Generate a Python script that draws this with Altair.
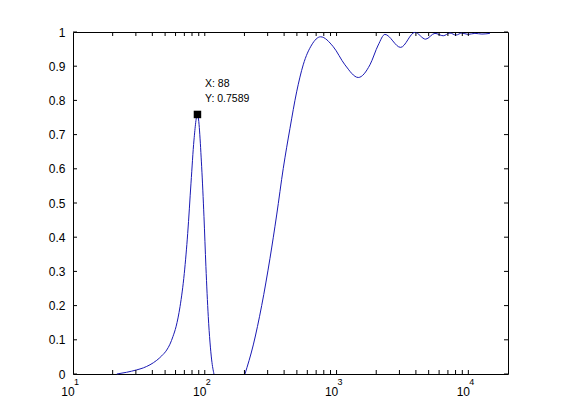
import altair as alt
import pandas as pd

# ---- data ----
peak_x = [21.5, 25.5, 30.4, 34.2, 38.4, 43.2, 47.1, 51.4, 54.4, 57.4, 60.5, 64.9, 69.9,
          74.2, 78.6, 82.8, 88, 94.7, 98.6, 102, 106.3, 112.8, 117.4]
peak_y = [0, 0.005, 0.012, 0.018, 0.027, 0.04, 0.053, 0.07, 0.087, 0.11, 0.138, 0.197, 0.294,
          0.411, 0.558, 0.684, 0.7589, 0.606, 0.46, 0.314, 0.168, 0.041, 0]

rise_x = [201.8, 233.4, 270.3, 312.4, 351.2, 394, 443, 498, 558.5, 647, 757, 944,
          1158, 1462, 1792, 2072, 2328, 3064, 3934, 4743, 5579, 6453, 7250, 8050,
          8940, 9930, 11220, 12680, 14580]
rise_y = [0, 0.085, 0.2, 0.338, 0.465, 0.601, 0.718, 0.825, 0.904, 0.962, 0.986, 0.957,
          0.904, 0.867, 0.904, 0.962, 0.993, 0.955, 0.999, 0.979, 0.996, 0.989, 0.997, 0.991,
          0.997, 0.993, 0.996, 0.994, 0.996]

tip_x = [88]
tip_y = [0.7589]
tip_label = ["X: 88\nY: 0.7589"]

x_major = [10, 100, 1000, 10000]
x_exp = ["1", "2", "3", "4"]
x_minor = [20, 30, 40, 50, 60, 70, 80, 90,
           200, 300, 400, 500, 600, 700, 800, 900,
           2000, 3000, 4000, 5000, 6000, 7000, 8000, 9000]
y_ticks = [0.0, 0.1, 0.2, 0.3, 0.4, 0.5, 0.6, 0.7, 0.8, 0.9, 1.0]

W, H = 435, 342
FONT = "Liberation Sans"
LINE = "#1a1ab4"

curve = pd.DataFrame({
    "x": peak_x + rise_x,
    "y": peak_y + rise_y,
    "seg": ["a"] * len(peak_x) + ["b"] * len(rise_x),
})
tip = pd.DataFrame({"x": tip_x, "y": tip_y, "label": tip_label})
xt = pd.DataFrame({"x": x_major[1:] + x_minor})
yt = pd.DataFrame({"y": y_ticks})
ex = pd.DataFrame({"x": x_major, "e": x_exp})

xs = alt.Scale(type="log", domain=[10, 20000])
ys = alt.Scale(domain=[0, 1])

x_axis = alt.Axis(
    values=x_major, labelExpr="'10'", title=None, grid=False, domain=False,
    ticks=False, tickSize=0, labelFont=FONT, labelFontSize=12, labelColor="black",
    labelAlign="center", labelOffset=-5.5, labelBaseline="alphabetic", labelPadding=21,
    labelFlush=False, labelOverlap=False)
y_axis = alt.Axis(
    values=y_ticks, format=".1~f", title=None, grid=False, domain=False,
    ticks=False, tickSize=0, labelFont=FONT, labelFontSize=12, labelColor="black",
    labelPadding=8, labelOverlap=False)


def X():
    return alt.X("x:Q", scale=xs, axis=x_axis)


def Y():
    return alt.Y("y:Q", scale=ys, axis=y_axis)


line = alt.Chart(curve).mark_line(color=LINE, strokeWidth=1, interpolate="monotone").encode(
    x=X(), y=Y(), detail="seg:N")

tick_b = alt.Chart(xt).mark_rule(color="black", strokeWidth=1).encode(
    x=X(), y=alt.value(H), y2=alt.value(H - 4))
tick_t = alt.Chart(xt).mark_rule(color="black", strokeWidth=1).encode(
    x=X(), y=alt.value(0), y2=alt.value(4))
tick_l = alt.Chart(yt).mark_rule(color="black", strokeWidth=1).encode(
    y=Y(), x=alt.value(0), x2=alt.value(4))
tick_r = alt.Chart(yt).mark_rule(color="black", strokeWidth=1).encode(
    y=Y(), x=alt.value(W), x2=alt.value(W - 4))

exps = alt.Chart(ex).mark_text(align="left", baseline="alphabetic", dx=1, fontSize=9,
                               font=FONT, color="black").encode(
    x=X(), y=alt.value(H + 11.3), text="e:N")

marker = alt.Chart(tip).mark_square(size=56, color="black", filled=True, opacity=1).encode(
    x=X(), y=Y())
tip_text = alt.Chart(tip).mark_text(align="left", baseline="alphabetic", dx=7.5, dy=-27,
                                    fontSize=10.5, font=FONT, color="black",
                                    lineBreak="\n", lineHeight=14.4).encode(
    x=X(), y=Y(), text="label:N")

chart = alt.layer(line, tick_b, tick_t, tick_l, tick_r, exps, marker, tip_text).properties(
    width=W, height=H,
    padding={"left": 65, "top": 24, "right": 45, "bottom": 30},
    autosize=alt.AutoSizeParams(type="none"),
    background="white",
).configure_view(stroke="black", strokeWidth=1)

chart.save("out.html", embed_options={"renderer": "svg", "actions": False})
